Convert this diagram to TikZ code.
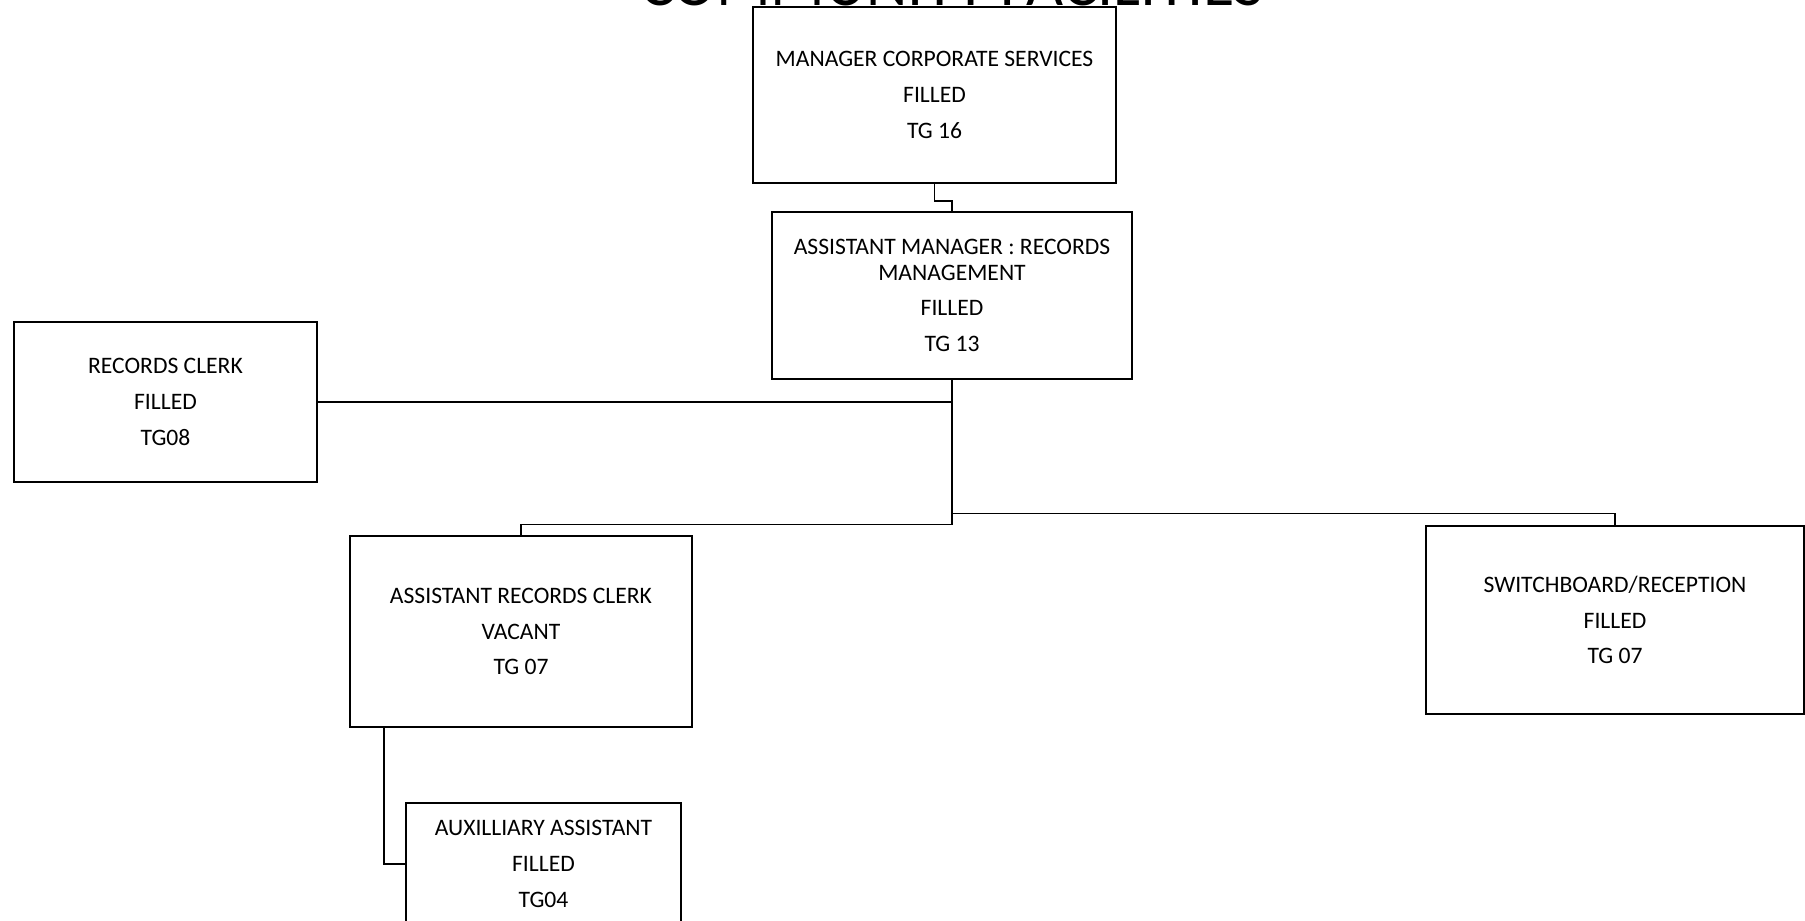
\documentclass[tikz,border=0pt]{standalone}
\usepackage{fontspec}
\setmainfont{Carlito}
\newfontfamily\titlefont{Carlito}
\begin{document}
\begin{tikzpicture}[x=1pt,y=-1pt,line width=1.9pt]
\tikzset{
  post/.style={draw, rectangle, inner sep=0pt, align=center,
    font=\fontsize{23.6}{25.3}\selectfont},
  link/.style={draw, line width=1.9pt}
}
\useasboundingbox (0,0) rectangle (1805,921);
\fill[white] (0,0) rectangle (1805,921);

% heading (runs off the top edge)
\node[anchor=base, inner sep=0pt, font=\titlefont\fontsize{64}{64}\selectfont] (title) at (952,5) {COMMUNITY FACILITIES};

% posts
\node[post, minimum width=363pt, minimum height=176pt] (mcs) at (934.5,95)
  {MANAGER CORPORATE SERVICES\\[10.4pt]FILLED\\[10.4pt]TG 16};
\node[post, minimum width=360pt, minimum height=167pt] (amr) at (952,295.5)
  {ASSISTANT MANAGER : RECORDS\\MANAGEMENT\\[10.4pt]FILLED\\[10.4pt]TG 13};
\node[post, minimum width=303pt, minimum height=160pt] (rc) at (165.5,402)
  {RECORDS CLERK\\[10.4pt]FILLED\\[10.4pt]TG08};
\node[post, minimum width=342pt, minimum height=191pt] (arc) at (521,631.5)
  {ASSISTANT RECORDS CLERK\\[10.4pt]VACANT\\[10.4pt]TG 07};
\node[post, minimum width=378pt, minimum height=188pt] (sw) at (1615,620)
  {SWITCHBOARD/RECEPTION\\[10.4pt]FILLED\\[10.4pt]TG 07};
\node[post, minimum width=275pt, minimum height=122pt] (aux) at (543.5,864)
  {AUXILLIARY ASSISTANT\\[10.4pt]FILLED\\[10.4pt]TG04};

% reporting lines
\coordinate (swj) at (952,513.5);
\draw[link] (mcs.south) -- ++(0,17) -| (amr.north);
\draw[link] (amr.south) -- ++(0,144.5) -| (arc.north);
\draw[link] (rc.east) -- (rc.east -| amr.south);
\draw[link] (swj) -| (sw.north);
\draw[link] ([xshift=35pt]arc.south west) |- (aux.west);
\end{tikzpicture}
\end{document}
